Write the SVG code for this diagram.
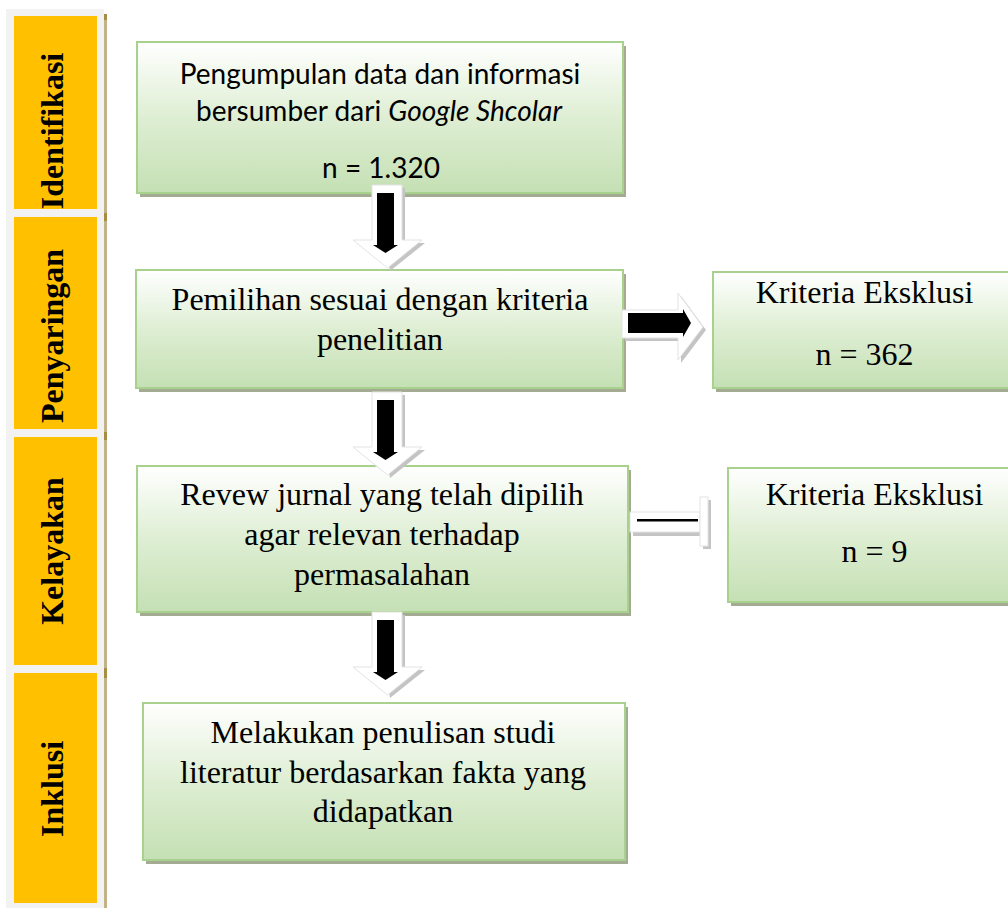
<svg xmlns="http://www.w3.org/2000/svg" xmlns:xlink="http://www.w3.org/1999/xlink" width="1008" height="908" viewBox="0 0 1008 908">
<style>
.box{stroke:#a9d18e;stroke-width:2;fill:url(#g)}
.sh{fill:#a3ab93}
.serif{font-family:"Liberation Serif","Times New Roman",serif;font-size:32px;fill:#000;text-anchor:middle}
.sans{font-family:Lato,"Open Sans",sans-serif;font-size:28px;fill:#000;text-anchor:middle}
.lbl{font-family:"Liberation Serif","Times New Roman",serif;font-size:32px;font-weight:bold;fill:#000;text-anchor:middle}
.bar{fill:#ffc000}
.aw{fill:#ffffff;stroke:#e3e3e3;stroke-width:1}
.as{fill:#c4c4c4}
</style>
<defs>
<linearGradient id="g" x1="0" y1="0" x2="0" y2="1">
<stop offset="0" stop-color="#ffffff"/>
<stop offset="0.5" stop-color="#deeed3"/>
<stop offset="1" stop-color="#c5e0b4"/>
</linearGradient>
<g id="down">
<polygon class="as" points="375,3 405,3 405,58 425,58 390,86"/>
<polygon class="aw" points="372,0 402,0 402,55 422,55 387.5,83 353,55 372,55"/>
<polygon fill="#000" points="377,8 394,8 394,60 398,60 385.5,68 373,60 377,60"/>
</g>
</defs>
<rect width="1008" height="908" fill="#ffffff"/>
<g id="stages">
<rect x="6" y="9" width="98" height="899" fill="#f2f2f2"/>
<rect x="104" y="14" width="3" height="894" fill="#c2b287"/>
<rect x="104" y="14" width="3" height="6" fill="#a68d45"/>
<rect x="104" y="213" width="3" height="8" fill="#a68d45"/>
<rect x="104" y="432" width="3" height="8" fill="#a68d45"/>
<rect x="104" y="668" width="3" height="10" fill="#a68d45"/>
<g id="stage-identifikasi"><rect class="bar" x="14" y="16" width="83" height="193"/><text class="lbl" transform="translate(63,131) rotate(-90)">Identifikasi</text></g>
<g id="stage-penyaringan"><rect class="bar" x="14" y="217" width="83" height="212"/><text class="lbl" transform="translate(63,336) rotate(-90)">Penyaringan</text></g>
<g id="stage-kelayakan"><rect class="bar" x="14" y="437" width="83" height="228"/><text class="lbl" transform="translate(63,551) rotate(-90)">Kelayakan</text></g>
<g id="stage-inklusi"><rect class="bar" x="14" y="673" width="83" height="230"/><text class="lbl" transform="translate(63,789) rotate(-90)">Inklusi</text></g>
</g>
<g id="node-pengumpulan">
<rect class="sh" x="140" y="46" width="486" height="151"/>
<rect class="box" x="137" y="42" width="486" height="151"/>
<text class="sans" x="380" y="84">Pengumpulan data dan informasi</text>
<text class="sans" x="379" y="121">bersumber dari <tspan font-style="italic">Google Shcolar</tspan></text>
<text class="sans" x="381" y="178">n = 1.320</text>
</g>
<g id="node-pemilihan">
<rect class="sh" x="139" y="274" width="487" height="118"/>
<rect class="box" x="136" y="270" width="487" height="118"/>
<text class="serif" x="380" y="310">Pemilihan sesuai dengan kriteria</text>
<text class="serif" x="380" y="350">penelitian</text>
</g>
<g id="node-revew">
<rect class="sh" x="140" y="470" width="491" height="146"/>
<rect class="box" x="137" y="466" width="491" height="146"/>
<text class="serif" x="382" y="505">Revew jurnal yang telah dipilih</text>
<text class="serif" x="382" y="545">agar relevan terhadap</text>
<text class="serif" x="382" y="585">permasalahan</text>
</g>
<g id="node-melakukan">
<rect class="sh" x="146" y="707" width="482" height="157"/>
<rect class="box" x="143" y="703" width="482" height="157"/>
<text class="serif" x="383" y="743">Melakukan penulisan studi</text>
<text class="serif" x="383" y="783">literatur berdasarkan fakta yang</text>
<text class="serif" x="383" y="822">didapatkan</text>
</g>
<g id="node-eksklusi1">
<rect class="sh" x="716" y="276" width="303" height="116"/>
<rect class="box" x="713" y="272" width="303" height="116"/>
<text class="serif" x="864.5" y="303">Kriteria Eksklusi</text>
<text class="serif" x="864.5" y="365">n = 362</text>
</g>
<g id="node-eksklusi2">
<rect class="sh" x="731" y="472" width="293" height="134"/>
<rect class="box" x="728" y="468" width="293" height="134"/>
<text class="serif" x="874.5" y="505">Kriteria Eksklusi</text>
<text class="serif" x="874.5" y="562">n = 9</text>
</g>
<g id="connectors">
<use xlink:href="#down" href="#down" transform="translate(0,185)"/>
<use xlink:href="#down" href="#down" transform="translate(0,392)"/>
<use xlink:href="#down" href="#down" transform="translate(0,612)"/>
<g id="arrow-right">
<polygon class="as" points="625,313 681,313 681,296 706,330 681,363 681,341 625,341"/>
<polygon class="aw" points="622,310 678,310 678,293 703,327 678,360 678,338 622,338"/>
<polygon fill="#000" points="628,313 683,313 683,309 691,323 683,337 683,333 628,333"/>
</g>
<g id="arrow-flat">
<rect class="as" x="633" y="515" width="70" height="21"/>
<rect class="as" x="703" y="500" width="8" height="49"/>
<rect class="aw" x="630" y="512" width="70" height="20"/>
<rect class="aw" x="700" y="497" width="8" height="49"/>
<rect x="637" y="519" width="61" height="2.5" fill="#000"/>
</g>
</g>
</svg>
